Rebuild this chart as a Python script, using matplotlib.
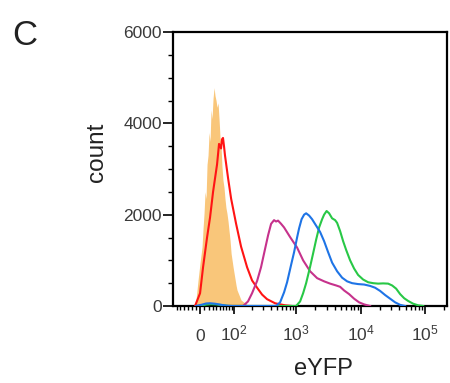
import numpy as np
import matplotlib
matplotlib.use("Agg")
import matplotlib.pyplot as plt

plt.rcParams['font.family'] = ['Liberation Sans', 'DejaVu Sans']
plt.rcParams['mathtext.fontset'] = 'custom'
plt.rcParams['mathtext.rm'] = 'Liberation Sans'
plt.rcParams['mathtext.it'] = 'Liberation Sans:italic'

# histogram traces (eYFP value, count)
orange_x = [-14, -9.3, -4.6, 0, 4.6, 7.0, 9.3, 11.7, 14.0, 16.4,
            18.8, 21.3, 23.7, 26.2, 28.7, 31.3, 33.9, 36.5, 39.2, 41.9,
            44.7, 47.5, 50.4, 53.4, 56.3, 59.4, 62.6, 65.8, 69.1, 72.5,
            76.4, 83.7, 87.8, 95.8, 108.7, 113, 133, 168, 188]
orange_y = [0, 150, 570, 950, 1290, 1700, 2030, 2500, 2350, 3100,
            3300, 3800, 3600, 4300, 4100, 4550, 4780, 4600, 4500, 4350,
            4450, 4100, 3700, 3500, 3050, 2750, 2600, 2350, 2150, 2030,
            1850, 1440, 1150, 850, 450, 350, 130, 30, 0]

red_x = [-11.7, 0, 7.0, 16.4, 23.7, 31.3, 41.9, 47.5, 53.4, 56.3, 59.4, 62.6,
         65.8, 76.4, 87.8, 108.7, 133, 168, 203, 245, 294, 352, 471, 675, 868]
red_y = [0, 280, 850, 1500, 1940, 2500, 3100, 3550, 3450, 3650, 3680, 3500,
         3300, 2800, 2350, 1800, 1300, 850, 560, 400, 250, 150, 60, 15, 0]

magenta_x = [144, 174, 203, 245, 283, 316, 366, 408, 454, 488, 524, 584, 651, 807,
             1037, 1287, 1652, 2122, 2723, 3376, 4182, 4824, 5564, 6650, 7947,
             9505, 11360, 14070]
magenta_y = [0, 100, 280, 550, 850, 1150, 1550, 1800, 1880, 1850, 1870, 1800, 1720,
             1510, 1280, 1000, 760, 610, 540, 490, 450, 420, 340, 260, 160, 80, 35, 0]

blue_x = [-9.3, 4.6, 14.0, 23.7, 36.5, 50.4, 69.1, 91.7,
          488, 564, 651, 725, 837, 932, 1037, 1114, 1218, 1333, 1433, 1594,
          1774, 2047, 2362, 2723, 3140, 3623, 4335, 5180, 6193, 7401, 9171,
          11360, 14070, 16830, 20120, 24060, 28760, 34380, 41130, 49170]
blue_y = [0, 30, 55, 60, 50, 30, 10, 0,
          0, 80, 300, 520, 900, 1180, 1500, 1700, 1900, 2000, 2030, 1980,
          1900, 1760, 1620, 1420, 1180, 950, 760, 620, 540, 500, 480,
          470, 440, 400, 330, 240, 160, 80, 25, 0]

green_x = [0, 14.0, 26.2, 39.2, 56.3, 76.4,
           1001, 1155, 1287, 1433, 1652, 1838, 2047, 2278, 2536, 2723, 2978,
           3256, 3623, 4034, 4335, 4824, 5370, 5975, 6893, 7947, 9171, 10960,
           13110, 15680, 18740, 22410, 26780, 30880, 35640, 41130, 47460,
           54760, 65450, 78260, 93600]
green_y = [0, 30, 40, 35, 20, 0,
           0, 100, 280, 500, 860, 1150, 1450, 1720, 1900, 2000, 2080,
           2030, 1920, 1880, 1820, 1640, 1420, 1230, 1000, 820, 680, 580,
           520, 500, 490, 495, 490, 450, 380, 260, 170, 110,
           50, 15, 0]

xticks = [0, 1e2, 1e3, 1e4, 1e5]
xticklabels = ['0', '$10^{2}$', '$10^{3}$', '$10^{4}$', '$10^{5}$']
yticks = [0, 2000, 4000, 6000]

W = 65.0
def fwd(v):
    return np.arcsinh(np.asarray(v) / W)
def inv(v):
    return W * np.sinh(np.asarray(v))

fig = plt.figure(figsize=(4.5, 3.83), dpi=100)
ax = fig.add_axes([173/450, 77/383, 274/450, 274/383])
ax.set_xscale('function', functions=(fwd, inv))

ax.fill_between(orange_x, orange_y, 0, color='#F9C67A', lw=0, zorder=1)
ax.plot(red_x, red_y, color='#FF1414', lw=1.5, zorder=3)
ax.plot(magenta_x, magenta_y, color='#C6328C', lw=1.5, zorder=3)
ax.plot(blue_x, blue_y, color='#1E74E6', lw=1.5, zorder=4)
ax.plot(green_x, green_y, color='#28C846', lw=1.5, zorder=3)

ax.set_xlim(-73, 2.19e5)
ax.set_ylim(0, 6000)

ax.set_yticks(yticks)
ax.set_yticks(np.arange(0, 6001, 500), minor=True)
ax.set_xticks(xticks)
ax.set_xticklabels(xticklabels, va='baseline')
minor = [-60, -50, -40, -30, -20, -10] + list(range(10, 100, 10))
for n in [2, 3, 4]:
    minor += [k * 10**n for k in range(2, 10)]
minor += [2e5]
ax.set_xticks(minor, minor=True)

for s in ax.spines.values():
    s.set_linewidth(1.6)
ax.tick_params(axis='y', which='major', length=7, width=1.2, labelsize=12.5,
               labelcolor='#3a3a3a', pad=1)
ax.tick_params(axis='y', which='minor', length=3.5, width=1.0)
ax.tick_params(axis='x', which='major', length=6, width=1.2, labelsize=12.5,
               labelcolor='#3a3a3a', pad=19)
ax.tick_params(axis='x', which='minor', length=3, width=1.0)

fig.text(97/450, 1 - 152/383, 'count', rotation=90, ha='center', va='center',
         fontsize=17.5, color='#222222')
fig.text(323/450, 1 - 375/383, 'eYFP', ha='center', va='baseline',
         fontsize=17, color='#222222')
fig.text(12/450, 1 - 45/383, 'C', ha='left', va='baseline', fontsize=25,
         color='#222222')

fig.savefig('out.png', dpi=100)
